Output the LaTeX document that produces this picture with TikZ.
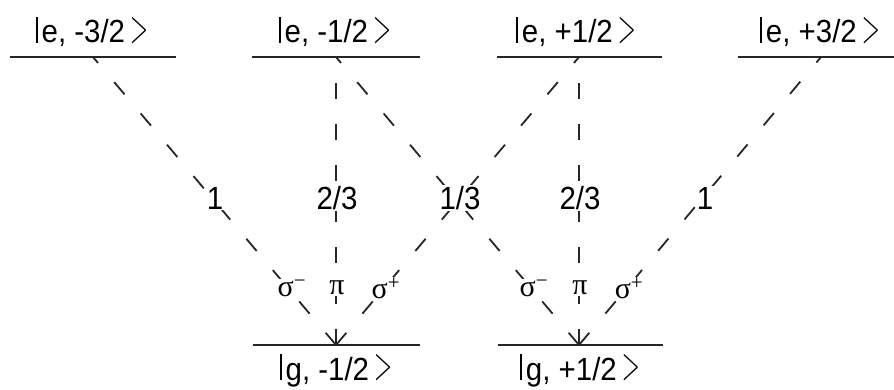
\documentclass[tikz,border=0pt]{standalone}
\usepackage{fontspec}
\setmainfont{Liberation Sans}[FakeStretch=0.92]
\newfontfamily\gkfont{Liberation Serif}
\newcommand\kbar{\rule[0pt]{1.8pt}{26pt}\hspace{4pt}}
\newcommand\kgt{\hspace{5pt}\raisebox{0.5pt}{\resizebox{18pt}{25pt}{$>$}}}
\newcommand\myket[1]{\kbar#1\kgt}
\begin{document}
\begin{tikzpicture}[x=1pt,y=-1pt,
  level/.style={line width=2.3pt, draw=black!85},
  trans/.style={dash pattern=on 16pt off 25pt, line width=1.8pt, draw=black!85},
  statelab/.style={font=\fontsize{32}{32}\selectfont, inner sep=0pt, anchor=base},
  coef/.style={font=\fontsize{32}{32}\selectfont, fill=white, inner sep=1pt},
  pol/.style={font=\gkfont\fontsize{30}{30}\selectfont, fill=white, inner sep=0.5pt}]
\useasboundingbox (0,0) rectangle (894,390);
% excited levels
\coordinate (e1L) at (10,57);  \coordinate (e1R) at (176,57); \coordinate (e1) at (93,57);
\coordinate (e2L) at (252,57); \coordinate (e2R) at (420,57); \coordinate (e2) at (336,57);
\coordinate (e3L) at (497,57); \coordinate (e3R) at (662,57); \coordinate (e3) at (579,57);
\coordinate (e4L) at (738,57); \coordinate (e4R) at (900,57); \coordinate (e4) at (821,57);
% ground levels
\coordinate (g1L) at (253,345); \coordinate (g1R) at (420,345); \coordinate (g1) at (336,345);
\coordinate (g2L) at (498,345); \coordinate (g2R) at (663,345); \coordinate (g2) at (579,345);

\foreach \n in {e1,e2,e3,e4,g1,g2} \draw[level] (\n L) -- (\n R);

% transitions
\draw[trans] (g1) -- (e1);
\draw[trans] (g1) -- (e2);
\draw[trans] (g1) -- (e3);
\draw[trans] (g2) -- (e2);
\draw[trans] (g2) -- (e3);
\draw[trans] (g2) -- (e4);

% state labels
\node[statelab] (le1) at (92,43) {\myket{e, -3/2}};
\node[statelab] (le2) at (335,43) {\myket{e, -1/2}};
\node[statelab] (le3) at (576,43) {\myket{e, +1/2}};
\node[statelab] (le4) at (820,43) {\myket{e, +3/2}};
\node[statelab] (lg1) at (336,380) {\myket{g, -1/2}};
\node[statelab] (lg2) at (580,380) {\myket{g, +1/2}};

% coefficients
\node[coef] (c1) at (215,198) {1};
\node[coef] (c2) at (337,198) {2/3};
\node[coef] (c3) at (460,198) {1/3};
\node[coef] (c4) at (580,198) {2/3};
\node[coef] (c5) at (705,198) {1};

% polarisations
\node[pol] (p1) at (292,288) {σ\textsuperscript{−}};
\node[pol] (p2) at (337,288) {π};
\node[pol] (p3) at (386,288) {σ\textsuperscript{+}};
\node[pol] (p4) at (534,288) {σ\textsuperscript{−}};
\node[pol] (p5) at (580,288) {π};
\node[pol] (p6) at (629,288) {σ\textsuperscript{+}};
\end{tikzpicture}
\end{document}
